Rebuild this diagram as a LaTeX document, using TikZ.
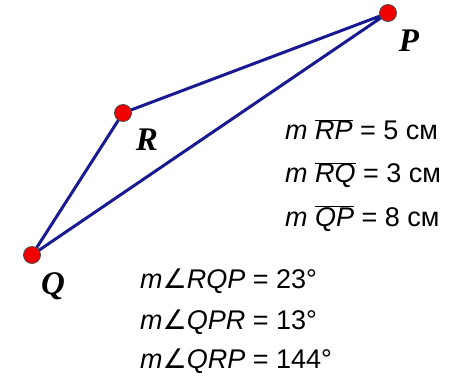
\documentclass[tikz,border=0pt]{standalone}
\usepackage{fontspec}
\setmainfont{Liberation Sans}
\newfontfamily\ptfont{Liberation Serif}
\newfontfamily\angfont{DejaVu Sans}
\usepackage{tikz}
\usetikzlibrary{positioning}

\definecolor{sidecol}{RGB}{25,25,145}
\definecolor{dotcol}{RGB}{240,0,0}
\newcommand{\ang}{{\angfont\symbol{"2220}}}
\newcommand{\seg}[1]{$\overline{\vphantom{\Large A}\hbox{\textit{#1}}}$}

\begin{document}
\begin{tikzpicture}[
  x=1pt, y=-1pt,
  side/.style={draw=sidecol, line width=3pt, line join=round},
  dot/.style={circle, draw=black!70, fill=dotcol, line width=0.8pt, minimum size=17pt, inner sep=0pt},
  vlabel/.style={font=\fontsize{33}{33}\selectfont\ptfont\bfseries\itshape},
  meas/.style={anchor=base west, inner sep=0pt, font=\fontsize{27}{27}\selectfont}
]
\useasboundingbox (0,0) rectangle (457,379);

% Triangle
\coordinate (P) at (388,13);
\coordinate (R) at (123,113);
\coordinate (Q) at (32,255);

\draw[side] (Q) -- (R) -- (P) -- cycle;

\node[dot] (P-dot) at (P) {};
\node[dot] (R-dot) at (R) {};
\node[dot] (Q-dot) at (Q) {};

\node[vlabel] (P-label) at (409,41) {P};
\node[vlabel] (R-label) at (147,140) {R};
\node[vlabel] (Q-label) at (53,286) {Q};

% Side lengths
\node[meas] (rp) at (285,140) {\textit{m} \seg{RP} = 5 см};
\node[meas] (rq) at (285,183) {\textit{m} \seg{RQ} = 3 см};
\node[meas] (qp) at (285,226) {\textit{m} \seg{QP} = 8 см};

% Angles
\node[meas] (rqp) at (140,288) {\textit{m}\ang\textit{RQP} = 23°};
\node[meas] (qpr) at (140,329) {\textit{m}\ang\textit{QPR} = 13°};
\node[meas] (qrp) at (140,368) {\textit{m}\ang\textit{QRP} = 144°};

\end{tikzpicture}
\end{document}
